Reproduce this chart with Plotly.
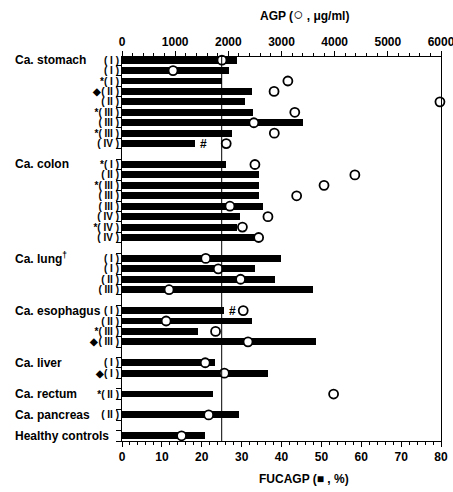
import plotly.graph_objects as go

# ---------------- data ----------------
groups = ["Ca. stomach", "Ca. colon", "Ca. lung<sup>†</sup>", "Ca. esophagus",
          "Ca. liver", "Ca. rectum", "Ca. pancreas", "Healthy controls"]
group_sizes = [9, 8, 4, 4, 2, 1, 1, 1]

stage_labels = [
    "( I )", "( I )", "*( I )", "◆( II )", "( II )", "*( III )", "( III )", "*( III )", "( IV )",
    "*( I )", "( II )", "*( III )", "( III )", "( III )", "( IV )", "*( IV )", "( IV )",
    "( I )", "( I )", "( II )", "( III )",
    "( I )", "( II )", "*( III )", "◆( III )",
    "( I )", "◆( I )",
    "*( II )",
    "( II )",
    "",
]

fucagp = [28.9, 26.9, 25.1, 32.5, 30.9, 32.9, 45.4, 27.5, 18.3,
          26.1, 34.3, 34.4, 34.3, 35.4, 29.7, 28.9, 33.6,
          39.8, 33.3, 38.3, 48.0,
          25.7, 32.7, 19.1, 48.7,
          23.3, 36.5,
          22.7,
          29.3,
          20.8]

agp = [1880, 960, 3120, 2860, 5980, 3250, 2480, 2865, 1960,
       2500, 4380, 3800, 3285, 2030, 2745, 2265, 2570,
       1575, 1810, 2230, 885,
       2280, 830, 1760, 2370,
       1565, 1925,
       3980,
       1630,
       1120]

hash_rows = [8, 21]
cutoff = 25

# ---------------- layout helpers ----------------
slots = []
group_first_slot = []
s = 0
for n in group_sizes:
    group_first_slot.append(s)
    for i in range(n):
        slots.append(s + i)
    s += n + 1

FONT = "Liberation Sans Narrow, Liberation Sans, Arial, sans-serif"

fig = go.Figure()
fig.add_trace(go.Bar(
    x=fucagp, y=slots, orientation="h", width=0.66,
    marker=dict(color="black", line=dict(width=0)),
    xaxis="x", yaxis="y", hoverinfo="skip", showlegend=False,
))
fig.add_trace(go.Scatter(
    x=agp, y=slots, mode="markers",
    marker=dict(symbol="circle", size=9, color="white",
                line=dict(color="black", width=1.8)),
    xaxis="x2", yaxis="y", hoverinfo="skip", showlegend=False, cliponaxis=False,
))

ann = []
for g, fs in zip(groups, group_first_slot):
    ann.append(dict(text="<b>%s</b>" % g, x=-0.343, xref="paper", y=fs, yref="y",
                    xanchor="left", yanchor="middle", showarrow=False,
                    font=dict(family=FONT, size=12, color="black")))
for r in hash_rows:
    ann.append(dict(text="<b>#</b>", x=fucagp[r], xref="x", y=slots[r], yref="y",
                    xanchor="left", yanchor="middle", xshift=3, showarrow=False,
                    font=dict(family=FONT, size=12, color="black")))
ann.append(dict(text="<b>AGP (<span style='font-size:17px'>○</span> , μg/ml)</b>",
                x=0.571, xref="paper", y=1.11, yref="paper",
                xanchor="center", yanchor="middle", showarrow=False,
                font=dict(family=FONT, size=12, color="black")))
ann.append(dict(text="<b>FUCAGP (■ , %)</b>", x=0.571, xref="paper", y=-0.099, yref="paper",
                xanchor="center", yanchor="middle", showarrow=False,
                font=dict(family=FONT, size=12, color="black")))

minor_y = sorted(set([v - 0.5 for v in slots] + [v + 0.5 for v in slots]))

fig.update_layout(
    width=453, height=492,
    margin=dict(l=122, r=12, t=57, b=51, autoexpand=False),
    plot_bgcolor="white", paper_bgcolor="white",
    font=dict(family=FONT, size=12, color="black"),
    annotations=ann,
    shapes=[dict(type="line", xref="x", yref="paper", x0=cutoff, x1=cutoff, y0=0, y1=1,
                 line=dict(color="black", width=1))],
    xaxis=dict(range=[0, 80], tickvals=list(range(0, 81, 10)),
               ticktext=["<b>%d</b>" % v for v in range(0, 81, 10)],
               ticks="outside", ticklen=5, tickwidth=1, tickcolor="black",
               minor=dict(dtick=2, ticks="outside", ticklen=3, tickcolor="black"),
               showline=True, linecolor="black", linewidth=1, showgrid=False,
               zeroline=False, tickfont=dict(size=12, color="black"),
               tickangle=0, automargin=False, ticklabeloverflow="allow"),
    xaxis2=dict(range=[0, 6000], overlaying="x", side="top",
                tickvals=list(range(0, 6001, 1000)),
                ticktext=["<b>%d</b>" % v for v in range(0, 6001, 1000)],
                ticks="outside", ticklen=5, tickwidth=1, tickcolor="black",
                minor=dict(dtick=200, ticks="outside", ticklen=3, tickcolor="black"),
                showline=True, linecolor="black", linewidth=1, showgrid=False,
                zeroline=False, tickfont=dict(size=12, color="black"),
                tickangle=0, automargin=False, ticklabeloverflow="allow"),
    yaxis=dict(range=[36.5, -0.3], tickvals=slots,
               ticktext=["<b>%s</b>" % t for t in stage_labels],
               ticks="", showline=True, linecolor="black", linewidth=1,
               mirror=True, showgrid=False, zeroline=False,
               minor=dict(tickvals=minor_y, ticks="outside", ticklen=5, tickcolor="black"),
               tickfont=dict(size=10, color="black"), automargin=False),
    bargap=0,
)

fig.write_html("out.html", config={"displayModeBar": False},
               post_script="document.body.style.margin='0px';document.body.style.padding='0px';")
